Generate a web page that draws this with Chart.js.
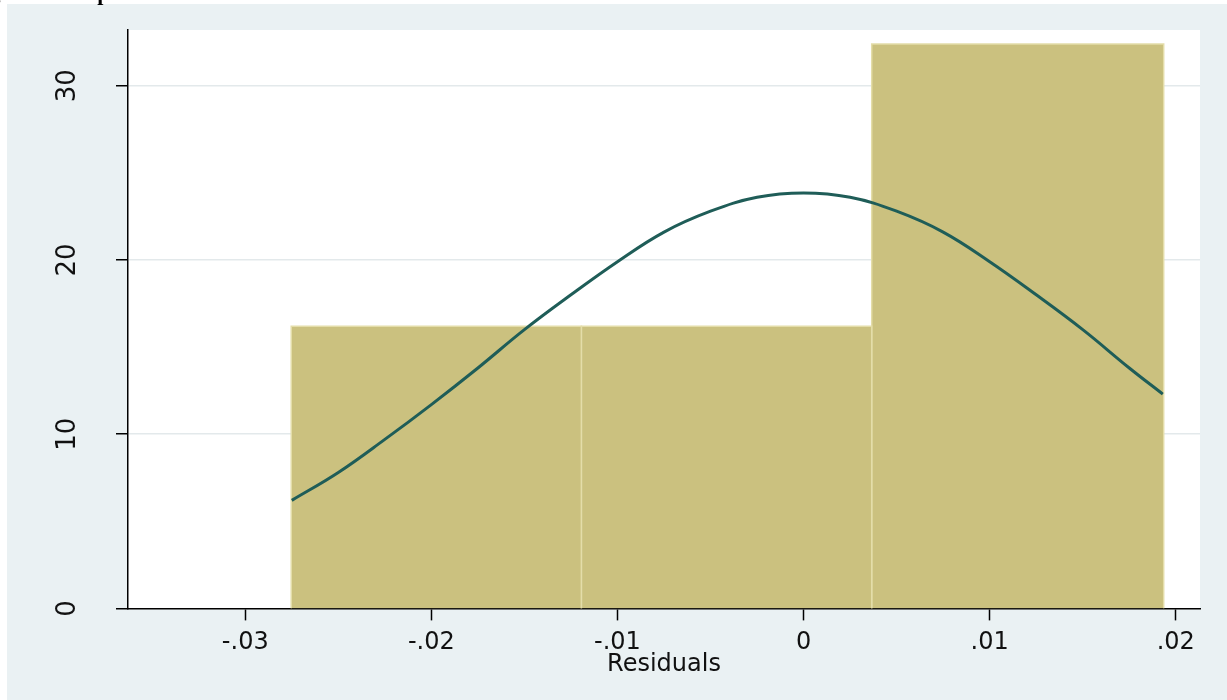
<!DOCTYPE html>
<html>
<head>
<meta charset="utf-8">
<script src="https://cdn.jsdelivr.net/npm/chart.js@4.4.1/dist/chart.umd.min.js"></script>
<style>
  html, body { margin: 0; padding: 0; background: #fff; overflow: hidden; }
  #wrap { position: relative; width: 1227px; height: 700px; }
  #chart { position: absolute; left: 0; top: 0; }
  #caption {
    position: absolute; left: -30px; top: -18px; z-index: 2;
    font: bold 22px/22px 'Liberation Serif', 'Times New Roman', serif;
    color: #000; white-space: nowrap;
  }
</style>
</head>
<body>
<div id="wrap">
  <div id="caption">Figure 4. Graph of Normal Distribution of Residuals</div>
  <canvas id="chart" width="1227" height="700"></canvas>
</div>
<script>
'use strict';

// histogram bins (density)
const binEdges = [-0.02753, -0.01194, 0.00366, 0.01935];
const binDensity = [16.2, 16.2, 32.4];

// normal density curve
const curveX = [-0.0275, -0.025, -0.0225, -0.02, -0.0175, -0.015, -0.0125, -0.01, -0.0075, -0.005,
  -0.0025, 0, 0.0025, 0.005, 0.0075, 0.01, 0.0125, 0.015, 0.0175, 0.0193];
const curveY = [6.2, 7.8, 9.7, 11.7, 13.8, 16.0, 18.0, 19.9, 21.6, 22.8,
  23.6, 23.85, 23.6, 22.8, 21.6, 19.9, 18.0, 16.0, 13.8, 12.3];

// axes
const xTicks = [-0.03, -0.02, -0.01, 0, 0.01, 0.02];
const xTickLabels = ['-.03', '-.02', '-.01', '0', '.01', '.02'];
const yTicks = [0, 10, 20, 30];
const yTickLabels = ['0', '10', '20', '30'];

const barColor = '#cbc17f';
const barEdge = '#e4dda9';
const curveColor = '#1f5d58';
const font = "'DejaVu Sans', 'Liberation Sans', sans-serif";

let datasets = [];

// one closed rectangle per bin, filled down to zero
for (let i = 0; i < binDensity.length; i++) {
  datasets.push({
    type: 'line',
    data: [
      { x: binEdges[i], y: 0 },
      { x: binEdges[i], y: binDensity[i] },
      { x: binEdges[i + 1], y: binDensity[i] },
      { x: binEdges[i + 1], y: 0 }
    ],
    backgroundColor: barColor,
    borderColor: barEdge,
    borderWidth: 1.5,
    fill: 'origin',
    pointRadius: 0,
    tension: 0,
    order: 2
  });
}

datasets.push({
  type: 'line',
  data: curveX.map((x, i) => ({ x: x, y: curveY[i] })),
  borderColor: curveColor,
  borderWidth: 3,
  fill: false,
  pointRadius: 0,
  tension: 0.4,
  order: 1
});

const backdrop = {
  id: 'backdrop',
  beforeDraw(chart) {
    const ctx = chart.ctx;
    const a = chart.chartArea;
    ctx.save();
    ctx.fillStyle = '#eaf1f3';
    ctx.fillRect(7, 4, chart.width - 7, chart.height - 4);
    ctx.fillStyle = '#ffffff';
    ctx.fillRect(a.left, a.top, a.right - a.left, a.bottom - a.top);
    ctx.restore();
  }
};

// stata style vertical y labels
const yLabels = {
  id: 'yLabels',
  afterDraw(chart) {
    const ctx = chart.ctx;
    const y = chart.scales.y;
    ctx.save();
    ctx.fillStyle = '#111';
    ctx.font = '26px ' + font;
    ctx.textAlign = 'center';
    ctx.textBaseline = 'middle';
    yTicks.forEach((v, i) => {
      ctx.save();
      ctx.translate(chart.chartArea.left - 60, y.getPixelForValue(v));
      ctx.rotate(-Math.PI / 2);
      ctx.fillText(yTickLabels[i], 0, 0);
      ctx.restore();
    });
    ctx.restore();
  }
};

new Chart(document.getElementById('chart'), {
  type: 'line',
  data: { datasets: datasets },
  options: {
    responsive: false,
    animation: false,
    events: [],
    layout: { padding: { left: 116, right: 27, top: 30, bottom: 17 } },
    plugins: {
      legend: { display: false },
      tooltip: { enabled: false }
    },
    scales: {
      x: {
        type: 'linear',
        min: -0.0363,
        max: 0.0213,
        afterBuildTicks: s => { s.ticks = xTicks.map(v => ({ value: v })); },
        grid: {
          drawOnChartArea: false,
          tickLength: 12,
          tickColor: '#000',
          tickWidth: 1.5
        },
        border: { color: '#000', width: 1.5 },
        ticks: {
          font: { family: font, size: 24 },
          color: '#111',
          padding: 8,
          maxRotation: 0,
          autoSkip: false,
          callback: (v, i) => xTickLabels[i]
        },
        title: {
          display: true,
          text: 'Residuals',
          font: { family: font, size: 24 },
          color: '#111',
          padding: { top: -15, bottom: 4 }
        }
      },
      y: {
        type: 'linear',
        min: 0,
        max: 33.2,
        afterBuildTicks: s => { s.ticks = yTicks.map(v => ({ value: v })); },
        grid: {
          color: c => (c.tick && c.tick.value === 0) ? 'rgba(0,0,0,0)' : '#e3e9eb',
          lineWidth: 1.5,
          tickLength: 12,
          tickColor: '#000',
          tickWidth: 1.5
        },
        border: { color: '#000', width: 1.5 },
        ticks: { display: false }
      }
    }
  },
  plugins: [backdrop, yLabels]
});
</script>
</body>
</html>
